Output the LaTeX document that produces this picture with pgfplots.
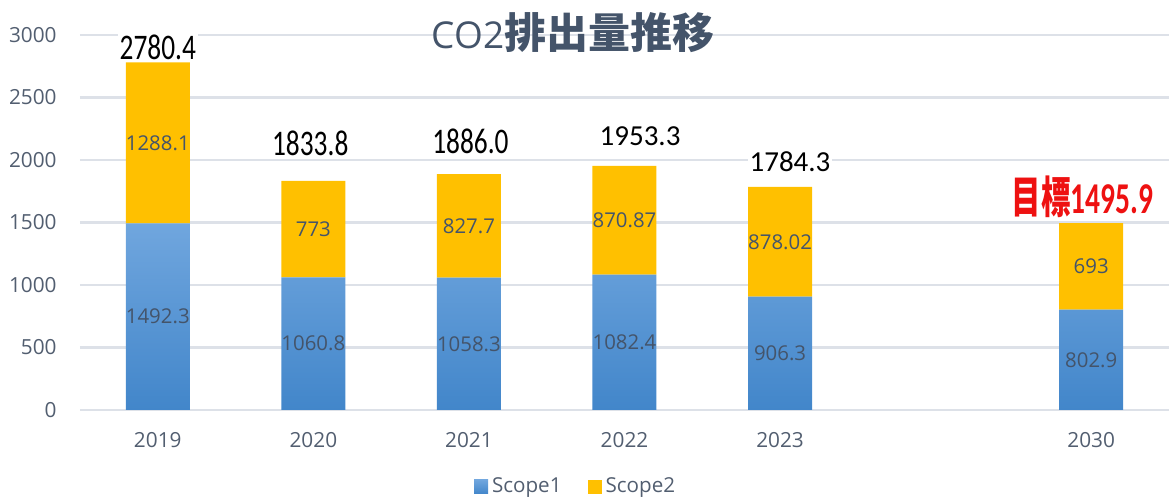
\documentclass[border=0pt]{standalone}
\usepackage{fontspec}
\setmainfont{Open Sans}
\newfontfamily\carlito{Carlito}
\newfontfamily\cjk{Noto Sans CJK JP}
\usepackage{graphicx}
\usepackage{pgfplots}
\pgfplotsset{compat=1.18}
\definecolor{slate}{HTML}{44546A}
\definecolor{tickc}{HTML}{525E70}
\definecolor{gridc}{HTML}{DDE1E8}
\definecolor{sonetop}{HTML}{70A6DE}
\definecolor{sonebot}{HTML}{4286CA}
\definecolor{stwo}{HTML}{FFC000}
\definecolor{tred}{HTML}{EE1111}
\begin{document}
\begin{tikzpicture}
\pgfplotsset{
  common/.style={
    scale only axis, width=544.5pt, height=187.5pt,
    at={(0pt,0pt)}, anchor=south west,
    xmin=-0.5, xmax=6.5, ymin=0, ymax=3000,
  }
}
\begin{axis}[common,
  ybar stacked, bar width=32pt,
  xtick={0,1,2,3,4,6}, xticklabels={2019,2020,2021,2022,2023,2030},
  ytick={0,500,...,3000},
  ymajorgrids, major grid style={gridc, line width=1.2pt},
  axis line style={draw=none}, major tick length=0pt, tick style={draw=none},
  /pgf/number format/assume math mode=true,
  /pgf/number format/1000 sep={},
  tick label style={font=\fontsize{10.4}{12}\selectfont, text=tickc},
  yticklabel style={inner sep=0pt, xshift=-11.5pt},
  xticklabel style={inner sep=0pt, yshift=-11pt},
  legend style={at={(0.456,-0.205)}, anchor=center, draw=none, fill=none, legend columns=2,
    font=\fontsize{10.3}{12}\selectfont, text=tickc,
    /tikz/every even column/.append style={column sep=11pt}},
  legend image code/.code={\fill[#1] (0pt,-3.5pt) rectangle (7pt,3.5pt);},
  title={{\fontsize{18.5}{20}\selectfont CO2}{\cjk\bfseries\fontsize{21}{24}\selectfont 排出量推移}},
  title style={at={(0.4527,0.975)}, anchor=center, inner sep=0pt, text=slate},
]
\addplot[draw=none, top color=sonetop, bottom color=sonebot] coordinates {(0,1492.3) (1,1060.8) (2,1058.3) (3,1082.4) (4,906.3) (6,802.9)};
\addplot[draw=none, fill=stwo] coordinates {(0,1288.1) (1,773) (2,827.7) (3,870.87) (4,878.02) (6,693)};
\legend{Scope1, Scope2}
\end{axis}
\begin{axis}[common, hide axis, clip=false]
% inner segment labels
\addplot[only marks, mark=*, mark size=0pt, mark options={draw=none, fill=none},
  nodes near coords, point meta=explicit symbolic,
  every node near coord/.append style={anchor=center, font=\fontsize{10.2}{12}\selectfont, text=slate, inner sep=0pt}]
  coordinates {(0,746.15)[1492.3] (1,530.4)[1060.8] (2,529.15)[1058.3] (3,541.2)[1082.4] (4,453.15)[906.3] (6,401.45)[802.9]
               (0,2136.35)[1288.1] (1,1447.3)[773] (2,1472.15)[827.7] (3,1517.8)[870.87] (4,1345.3)[878.02] (6,1149.4)[693]};
% totals, condensed
\addplot[only marks, mark=*, mark size=0pt, mark options={draw=none, fill=none},
  nodes near coords={\scalebox{0.76}[1]{\pgfplotspointmeta}}, point meta=explicit symbolic,
  every node near coord/.append style={anchor=center, font=\carlito\fontsize{18}{20}\selectfont, text=black, fill=white, inner sep=1pt}]
  coordinates {(0,2904)[2780.4] (0.98,2136)[1833.8] (2.01,2148)[1886.0]};
% totals, regular
\addplot[only marks, mark=*, mark size=0pt, mark options={draw=none, fill=none},
  nodes near coords, point meta=explicit symbolic,
  every node near coord/.append style={anchor=center, font=\carlito\fontsize{14.5}{16}\selectfont, text=black, fill=white, inner sep=1pt}]
  coordinates {(3.1,2192)[1953.3] (4.064,1984)[1784.3]};
% target
\addplot[only marks, mark=*, mark size=0pt, mark options={draw=none, fill=none},
  nodes near coords={\scalebox{0.67}[1]{{\cjk\bfseries 目標}\pgfplotspointmeta}}, point meta=explicit symbolic,
  every node near coord/.append style={anchor=center, font=\carlito\bfseries\fontsize{22}{24}\selectfont, text=tred, fill=white, inner sep=1pt}]
  coordinates {(5.945,1708)[1495.9]};
\end{axis}
\pgfresetboundingbox
\path[use as bounding box] (-40pt,-45.5pt) rectangle (544.5pt,205pt);
\end{tikzpicture}
\end{document}
